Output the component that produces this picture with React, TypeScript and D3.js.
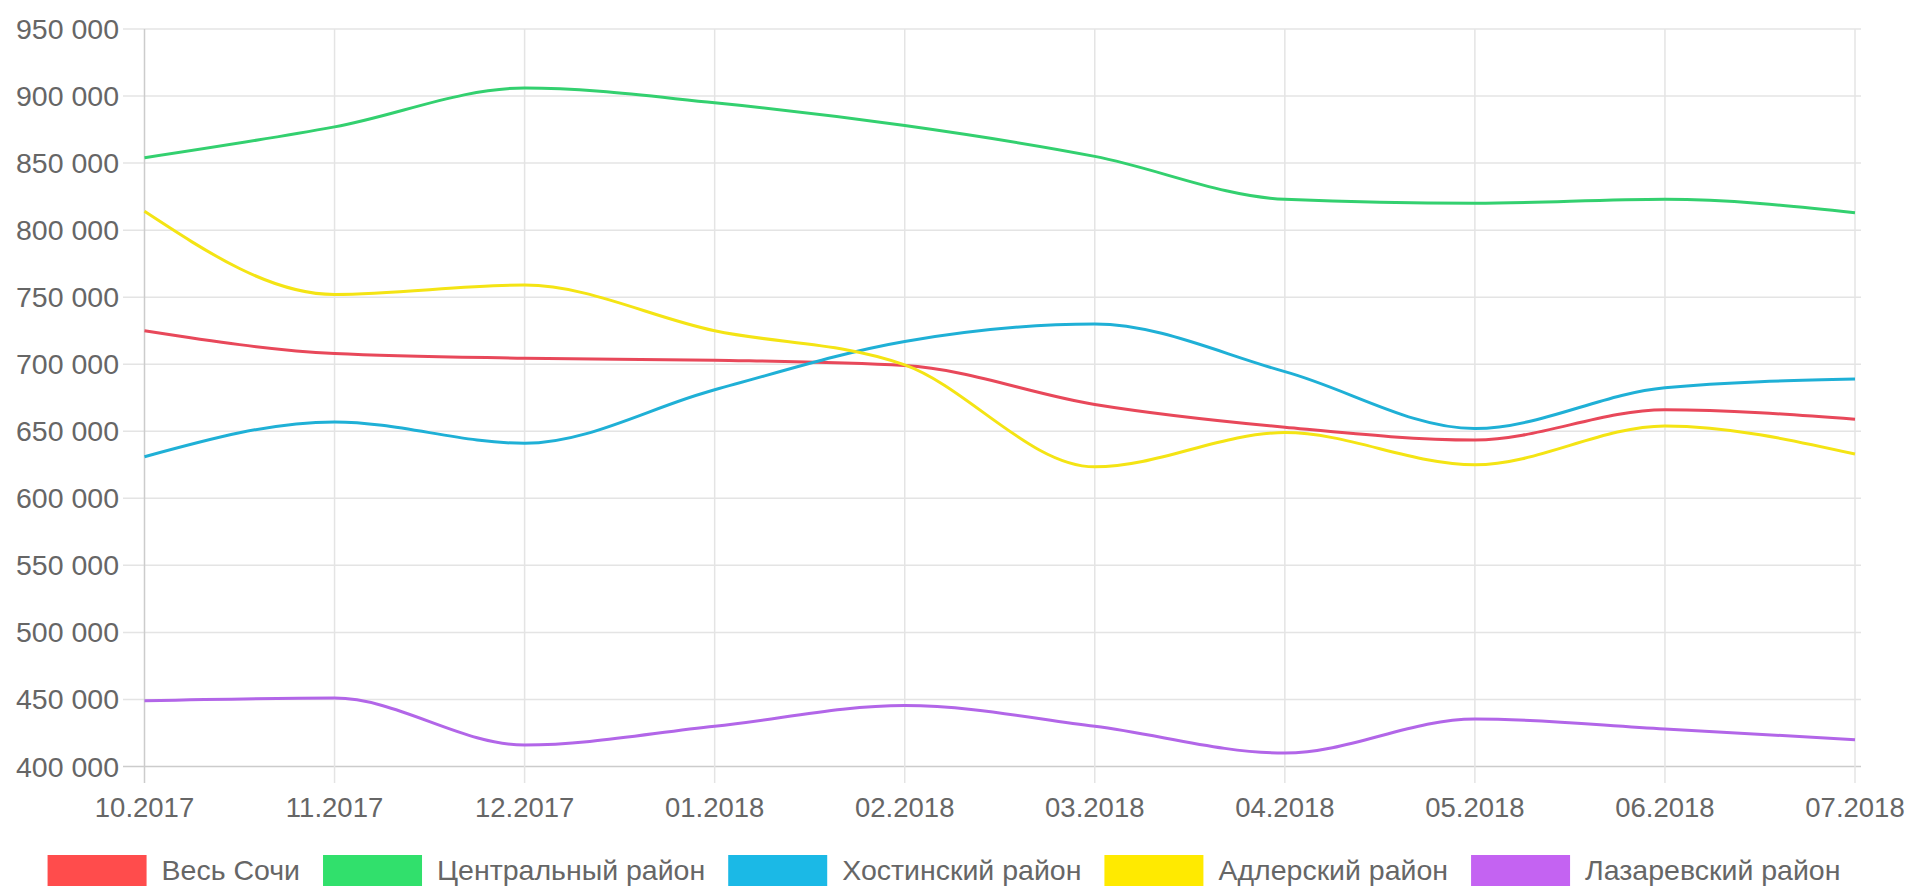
import * as d3 from "d3";
import React, { useEffect, useRef } from "react";

const months = [
  "10.2017", "11.2017", "12.2017", "01.2018", "02.2018",
  "03.2018", "04.2018", "05.2018", "06.2018", "07.2018",
];

const sochi = [725000, 708000, 704500, 703000, 699000, 670000, 653000, 643500, 666000, 659000];
const central = [854000, 877000, 906000, 895000, 878000, 855000, 823000, 820000, 823000, 813000];
const khosta = [631000, 657000, 641000, 681000, 717000, 730000, 694500, 652000, 682500, 689000];
const adler = [814000, 752000, 759000, 725000, 699500, 623500, 649000, 625000, 654000, 633000];
const lazarev = [449000, 451000, 416000, 430000, 445500, 430000, 410000, 435500, 428000, 420000];

const seriesNames = ["Весь Сочи", "Центральный район", "Хостинский район", "Адлерский район", "Лазаревский район"];
const boxColors = ["#ff4c4c", "#31e06c", "#1bb9e6", "#ffea00", "#c463f2"];
const lineColors = ["#e8485a", "#33d06f", "#1fb0d6", "#f4e414", "#b266e8"];
const yTicks = [400000, 450000, 500000, 550000, 600000, 650000, 700000, 750000, 800000, 850000, 900000, 950000];

const W = 1912;
const H = 886;
const FONT = "'Liberation Sans', Arial, sans-serif";

const LineChart: React.FC = () => {
  const ref = useRef<SVGSVGElement>(null);

  useEffect(() => {
    if (!ref.current) return;
    const svg = d3.select(ref.current);
    svg.selectAll("*").remove();

    const x = d3.scalePoint().domain(months).range([144.5, 1855]);
    const y = d3.scaleLinear().domain([400000, 950000]).range([766.5, 29]);
    const fmt = (v: number) => d3.format(",")(v).replace(/,/g, " ");

    // grid
    const grid = svg.append("g");
    grid
      .selectAll("line.h")
      .data(yTicks)
      .enter()
      .append("line")
      .attr("x1", 123)
      .attr("x2", 1861)
      .attr("y1", (d) => y(d))
      .attr("y2", (d) => y(d))
      .attr("stroke", (d) => (d === 400000 ? "#cccccc" : "#e4e4e4"))
      .attr("stroke-width", 1.5);
    grid
      .selectAll("line.v")
      .data(months)
      .enter()
      .append("line")
      .attr("x1", (d) => x(d)!)
      .attr("x2", (d) => x(d)!)
      .attr("y1", 29)
      .attr("y2", 783)
      .attr("stroke", (d, i) => (i === 0 ? "#cccccc" : "#e4e4e4"))
      .attr("stroke-width", 1.5);

    // y labels
    svg
      .append("g")
      .selectAll("text")
      .data(yTicks)
      .enter()
      .append("text")
      .attr("x", 119)
      .attr("y", (d) => y(d) + 10)
      .attr("text-anchor", "end")
      .attr("font-family", FONT)
      .attr("font-size", 28.5)
      .attr("fill", "#666")
      .text((d) => fmt(d));

    // x labels
    svg
      .append("g")
      .selectAll("text")
      .data(months)
      .enter()
      .append("text")
      .attr("x", (d) => x(d)!)
      .attr("y", 817)
      .attr("text-anchor", "middle")
      .attr("font-family", FONT)
      .attr("font-size", 27.5)
      .attr("fill", "#666")
      .text((d) => d);

    // lines
    const allSeries = [sochi, central, khosta, adler, lazarev];
    const line = d3
      .line<number>()
      .x((_, j) => x(months[j])!)
      .y((v) => y(v))
      .curve(d3.curveMonotoneX);
    const lines = svg.append("g");
    allSeries.forEach((vals, i) => {
      lines
        .append("path")
        .attr("d", line(vals))
        .attr("fill", "none")
        .attr("stroke", lineColors[i])
        .attr("stroke-width", 3);
    });

    // legend
    const legend = svg.append("g");
    const items = seriesNames.map((name, i) => {
      const g = legend.append("g");
      g.append("rect")
        .attr("x", 0)
        .attr("y", 855)
        .attr("width", 99)
        .attr("height", 36)
        .attr("fill", boxColors[i]);
      const t = g
        .append("text")
        .attr("x", 114)
        .attr("y", 880)
        .attr("font-family", FONT)
        .attr("font-size", 28.5)
        .attr("fill", "#666")
        .text(name);
      const tw = (t.node() as SVGTextElement).getComputedTextLength();
      return { g, w: 114 + tw };
    });
    const gap = 23;
    const total = d3.sum(items, (d) => d.w) + gap * (items.length - 1);
    let cx = 944 - total / 2;
    items.forEach((it) => {
      it.g.attr("transform", `translate(${cx},0)`);
      cx += it.w + gap;
    });
  }, []);

  return (
    <svg
      ref={ref}
      width={W}
      height={H}
      style={{ position: "absolute", left: 0, top: 0, background: "#fff" }}
    ></svg>
  );
};

const App: React.FC = () => {
  return (
    <div>
      <LineChart />
    </div>
  );
};

export default App;
